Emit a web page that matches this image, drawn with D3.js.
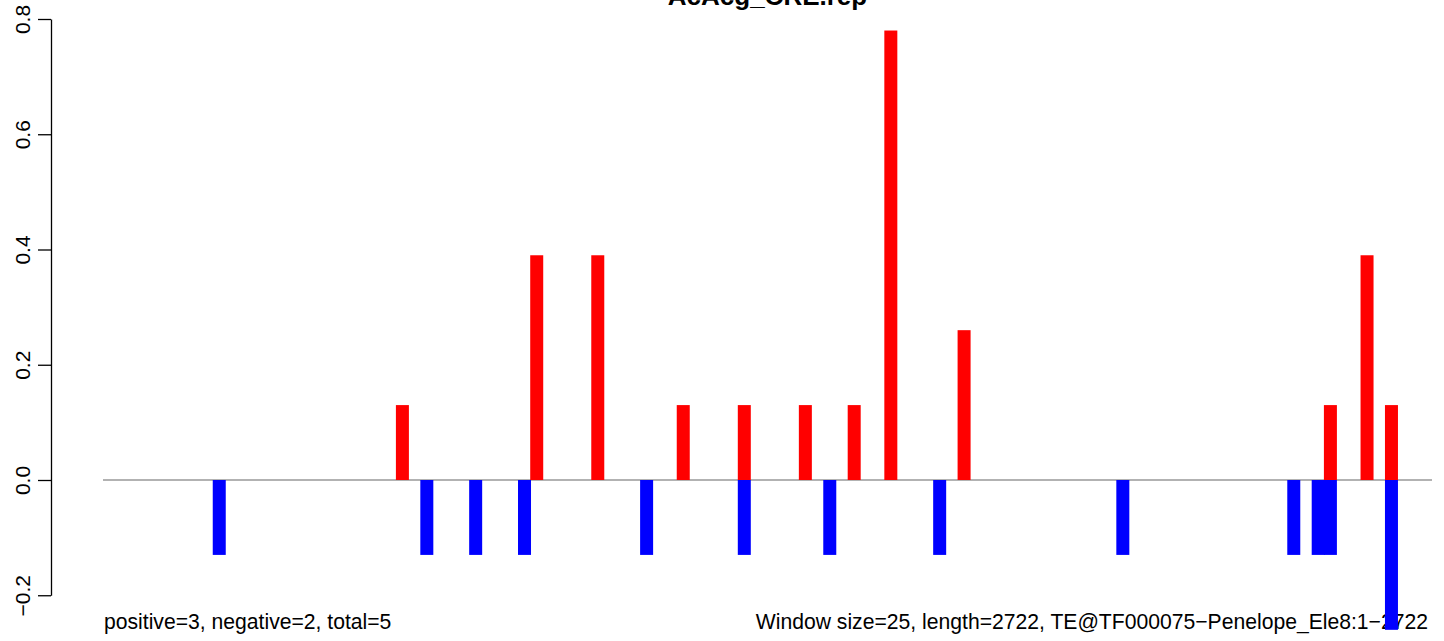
<!DOCTYPE html>
<html>
<head>
<meta charset="utf-8">
<script src="https://cdn.jsdelivr.net/npm/d3@7"></script>
<style>
  html, body { margin: 0; padding: 0; background: #fff; }
  svg { display: block; font-family: "Liberation Sans", Arial, Helvetica, sans-serif; }
</style>
</head>
<body>
<svg id="chart" width="1444" height="641"></svg>
<script>
// ---- data ----
const title = "AcAcg_CRE.rep";
const seqLength = 2722;
const windowSize = 25;
const yTicks = [-0.2, 0.0, 0.2, 0.4, 0.6, 0.8];

// positive (red) bars: window centre position (bp) and value
const posPositions = [614, 889, 1014, 1189, 1314, 1439, 1539, 1614, 1764, 2514, 2589, 2639];
const posValues    = [0.13, 0.39, 0.39, 0.13, 0.13, 0.13, 0.13, 0.78, 0.26, 0.13, 0.39, 0.13];

// negative (blue) bars
const negPositions = [239, 664, 764, 864, 1114, 1314, 1489, 1714, 2089, 2439, 2489, 2514, 2639];
const negValues    = [-0.13, -0.13, -0.13, -0.13, -0.13, -0.13, -0.13, -0.13, -0.13, -0.13, -0.13, -0.13, -0.26];

const leftNote = "positive=3, negative=2, total=5";
const rightNote = "Window size=25, length=2722, TE@TF000075\u2212Penelope_Ele8:1\u22122722";

// ---- layout ----
const svg = d3.select("#chart");
const plotLeft = 103, plotRight = 1432;
const axisX = 51;

const x = d3.scaleLinear().domain([1, seqLength]).range([plotLeft, plotRight]);
const y = d3.scaleLinear().domain([-0.2, 0.8]).range([595.25, 19]);
const barW = 13;

// title (partly cut at top, as in reference)
svg.append("text")
  .attr("x", (plotLeft + plotRight) / 2)
  .attr("y", 5)
  .attr("text-anchor", "middle")
  .attr("font-weight", "bold")
  .attr("font-size", 26)
  .attr("fill", "#000")
  .text(title);

// bottom notes (drawn before bars, bars overlap them)
svg.append("text")
  .attr("x", 104).attr("y", 628.5)
  .attr("font-size", 21.15)
  .attr("fill", "#000")
  .text(leftNote);
svg.append("text")
  .attr("x", 1428).attr("y", 628.5)
  .attr("text-anchor", "end")
  .attr("font-size", 21.15)
  .attr("fill", "#000")
  .text(rightNote);

// zero baseline
svg.append("line")
  .attr("x1", x(1)).attr("x2", x(seqLength))
  .attr("y1", y(0)).attr("y2", y(0))
  .attr("stroke", "#999999")
  .attr("stroke-width", 1.3);

// y axis
const yAxis = d3.axisLeft(y)
  .tickValues(yTicks)
  .tickFormat(d3.format(".1f"))
  .tickSizeInner(13)
  .tickSizeOuter(0)
  .tickPadding(4);

const gAxis = svg.append("g")
  .attr("transform", `translate(${axisX},0)`)
  .call(yAxis);
gAxis.select(".domain").attr("stroke", "#000").attr("stroke-width", 1.3);
gAxis.selectAll(".tick line").attr("stroke", "#000").attr("stroke-width", 1.3);
gAxis.selectAll(".tick text")
  .attr("font-size", 21)
  .attr("font-family", "Liberation Sans, Arial, Helvetica, sans-serif")
  .attr("fill", "#000")
  .attr("text-anchor", "middle")
  .attr("dy", null)
  .attr("x", null)
  .attr("transform", "translate(-29,0) rotate(-90)")
  .attr("dominant-baseline", "central");

// bars
const posData = posPositions.map((p, i) => ({ p, v: posValues[i] }));
const negData = negPositions.map((p, i) => ({ p, v: negValues[i] }));

svg.append("g").selectAll("rect").data(posData).enter().append("rect")
  .attr("x", d => x(d.p) - barW / 2)
  .attr("width", barW)
  .attr("y", d => y(d.v))
  .attr("height", d => y(0) - y(d.v))
  .attr("fill", "#ff0000");

svg.append("g").selectAll("rect").data(negData).enter().append("rect")
  .attr("x", d => x(d.p) - barW / 2)
  .attr("width", barW)
  .attr("y", y(0))
  .attr("height", d => y(d.v) - y(0))
  .attr("fill", "#0000ff");
</script>
</body>
</html>
